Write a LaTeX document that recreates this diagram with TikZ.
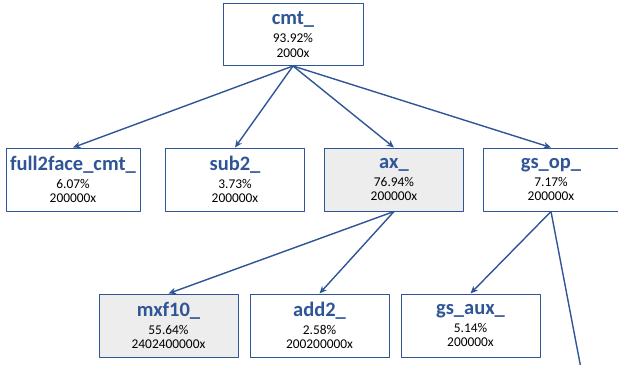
\documentclass[tikz,border=0pt]{standalone}
\usepackage{fontspec}
\setmainfont{Carlito}
\usetikzlibrary{arrows.meta}
\definecolor{callblue}{HTML}{2F5597}
\definecolor{callgray}{HTML}{EDEDED}
\newcommand{\fname}[1]{{\fontsize{20.5}{20}\selectfont\bfseries\color{callblue}#1}}
\begin{document}
\begin{tikzpicture}[x=1pt, y=-1pt, line join=round, >={Stealth[length=7.5pt,width=6.5pt]},
	fbox/.style={draw=callblue, line width=1pt, fill=white, minimum width=139pt, minimum height=63pt,
		align=center, inner sep=0pt, font=\fontsize{13.4}{14.5}\selectfont},
	hot/.style={fill=callgray},
	call/.style={->, draw=callblue, line width=1.4pt}]
	\useasboundingbox (0,0) rectangle (618,364);
	% Ebene 0
	\node[fbox, minimum width=140pt, minimum height=62pt] (cmt) at (293,34.5) {\fname{cmt\_}\\[3.5pt] 93.92\%\\ 2000x};
	% Ebene 1
	\node[fbox, minimum width=134pt] (full) at (73,179.5) {\fname{full2face\_cmt\_}\\[3.5pt] 6.07\%\\ 200000x};
	\node[fbox] (sub) at (235,179.5) {\fname{sub2\_}\\[3.5pt] 3.73\%\\ 200000x};
	\node[fbox, hot] (ax) at (394,179.5) {\fname{ax\_}\\[3.5pt] 76.94\%\\ 200000x};
	\node[fbox, minimum width=135pt] (gsop) at (551,179.5) {\fname{gs\_op\_}\\[3.5pt] 7.17\%\\ 200000x};
	% Ebene 2
	\node[fbox, hot] (mxf) at (168.5,325.5) {\fname{mxf10\_}\\[3.5pt] 55.64\%\\ 2402400000x};
	\node[fbox] (add) at (319.5,325.5) {\fname{add2\_}\\[3.5pt] 2.58\%\\ 200200000x};
	\node[fbox] (gsaux) at (470.5,325.5) {\fname{gs\_aux\_}\\[3.5pt] 5.14\%\\ 200000x};
	\coordinate (weiter) at (580.5,366);
	% Aufrufe
	\draw[call] (cmt.south) -- (full.north);
	\draw[call] (cmt.south) -- (sub.north);
	\draw[call] (cmt.south) -- (ax.north);
	\draw[call] (cmt.south) -- (gsop.north);
	\draw[call] (ax.south) -- (mxf.north);
	\draw[call] (ax.south) -- (add.north);
	\draw[call] (gsop.south) -- (gsaux.north);
	\draw[call, -] (gsop.south) -- (weiter);
\end{tikzpicture}
\end{document}
